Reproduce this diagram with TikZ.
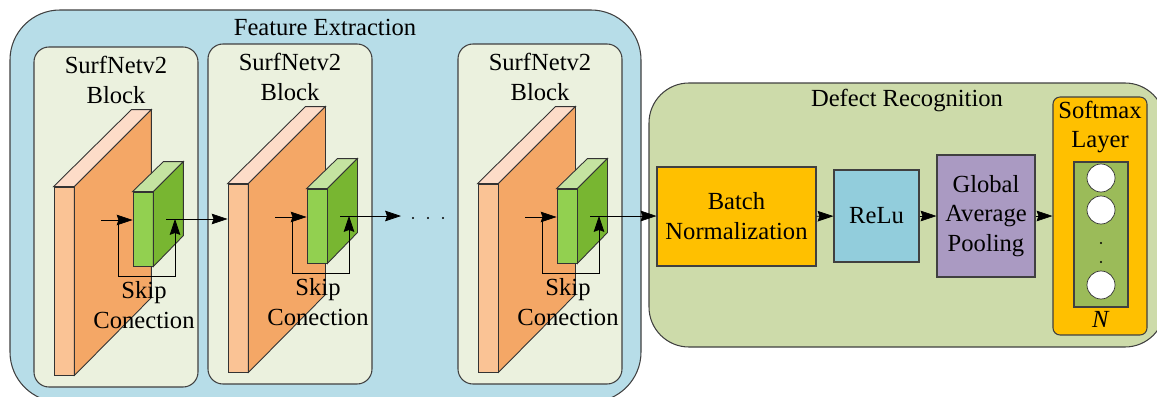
\documentclass[tikz,border=0pt]{standalone}
\usepackage{fontspec}
\setmainfont{Liberation Serif}
\usetikzlibrary{arrows.meta}

\definecolor{featbg}{HTML}{B7DDE8}
\definecolor{blockbg}{HTML}{EBF1DE}
\definecolor{recogbg}{HTML}{CDDBAA}
\definecolor{slabA}{HTML}{FAC395}
\definecolor{slabB}{HTML}{F4A766}
\definecolor{slabC}{HTML}{FDDCC8}
\definecolor{cubeA}{HTML}{92D050}
\definecolor{cubeB}{HTML}{78B631}
\definecolor{cubeC}{HTML}{C4E3A0}
\definecolor{bnfill}{HTML}{FFC000}
\definecolor{relufill}{HTML}{92CDDC}
\definecolor{gapfill}{HTML}{AA9AC2}
\definecolor{neurbg}{HTML}{9BBB59}

\begin{document}
\begin{tikzpicture}[x=0.02cm, y=-0.02cm, >={Stealth[length=9pt,width=6pt,inset=1pt]},
    font=\fontsize{14}{17}\selectfont,
    frame/.style={draw=black!75, line width=0.6pt},
    face/.style={draw=black!80, line width=0.5pt},
    slabfront/.style={face, fill=slabA, minimum width=0.4cm, minimum height=3.76cm, inner sep=0pt},
    cubefront/.style={face, fill=cubeA, minimum width=0.4cm, minimum height=1.48cm, inner sep=0pt},
    layer/.style={frame, inner sep=0pt, align=center},
    neuron/.style={circle, draw=black!80, fill=white, minimum size=0.56cm, inner sep=0pt}]
  \useasboundingbox (0,0) rectangle (1157,396);
  \begin{scope}
    \clip (0,0) rectangle (1157,396);
    \draw[frame, fill=featbg, rounded corners=1cm] (10,10) rectangle (641,402);
    \draw[frame, fill=recogbg, rounded corners=0.8cm] (649,83) rectangle (1165,347);
  \end{scope}
  \node (feattitle) at (325,27) {Feature Extraction};
  \node (recogtitle) at (907,100) {Defect Recognition};

  \foreach \dx/\dy/\nm in {-174/3/a, 0/0/b, 250/0/c} {
    \begin{scope}[shift={(\dx,\dy)}]
      \draw[frame, fill=blockbg, rounded corners=0.3cm] (208,44) rectangle (372,384);
      \node[align=center] (title\nm) at (290,77) {SurfNetv2\\Block};
      \node[slabfront] (slab\nm) at (238,278) {};
      \draw[face, fill=slabC] (slab\nm.north west) -- (slab\nm.north east) -- ++(77,-77) -- ++(-20,0) -- cycle;
      \draw[face, fill=slabB] (slab\nm.north east) -- ++(77,-77) -- ++(0,188) -- (slab\nm.south east) -- cycle;
      \node[cubefront] (cube\nm) at (317,226) {};
      \draw[face, fill=cubeC] (cube\nm.north west) -- (cube\nm.north east) -- ++(30,-30) -- ++(-20,0) -- cycle;
      \draw[face, fill=cubeB] (cube\nm.north east) -- ++(30,-30) -- ++(0,74) -- (cube\nm.south east) -- cycle;
      \coordinate (in\nm) at (275,217);
      \coordinate (out\nm) at (340,216);
      \coordinate (skip\nm) at (349,216);
      \draw[->] (in\nm) -- (in\nm -| cube\nm.west);
      \draw[->] (in\nm) ++(17,0) -- ++(0,56) -| (skip\nm);
      \node[align=center] (skiptext\nm) at (318,302) {Skip\\Conection};
    \end{scope}
  }
  \coordinate (dots) at (401,216);
  \foreach \x in {413,428,443}
    \fill (\x,218) circle (0.6pt);

  \node[layer, fill=bnfill, minimum width=3.18cm, minimum height=1.98cm] (bn) at (736.5,216.5) {Batch\\Normalization};
  \node[layer, fill=relufill, minimum width=1.7cm, minimum height=1.84cm] (relu) at (876.5,216) {ReLu};
  \node[layer, fill=gapfill, minimum width=1.96cm, minimum height=2.44cm] (gap) at (986,216) {Global\\Average\\Pooling};
  \node[layer, fill=bnfill, rounded corners=4pt, minimum width=1.88cm, minimum height=4.76cm] (soft) at (1100,216) {};
  \node[align=center] (softtitle) at (1100,127) {Softmax\\Layer};
  \node[layer, fill=neurbg, minimum width=1.08cm, minimum height=2.9cm] (neurons) at (1101,234.5) {};
  \node[neuron] (n1) at (1101,178) {};
  \node[neuron] (n2) at (1101,210) {};
  \node[neuron] (n3) at (1101,285) {};
  \foreach \y in {243,262}
    \fill (1101,\y) circle (0.6pt);
  \node (nlabel) at (1101,319) {\textit{N}};

  \draw[->] (outa) -- (outa -| slabb.west);
  \draw[->] (outb) -- (dots);
  \draw[->] (outc) -- (outc -| bn.west);
  \draw[->] (bn) -- (relu);
  \draw[->] (relu) -- (gap);
  \draw[->] (gap) -- (soft);
\end{tikzpicture}
\end{document}
